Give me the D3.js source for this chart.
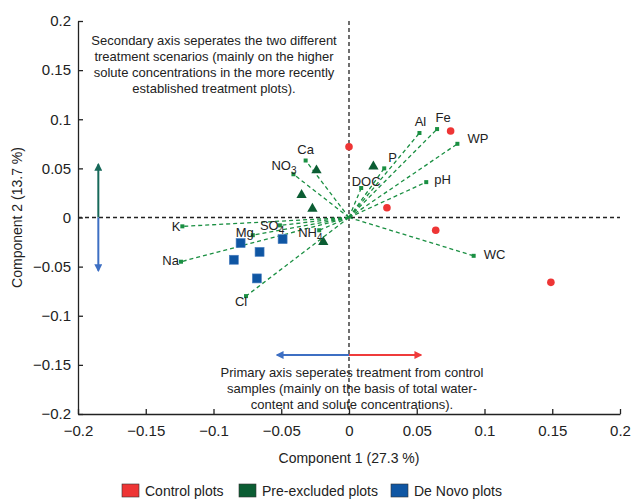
<!DOCTYPE html>
<html>
<head>
<meta charset="utf-8">
<script src="https://d3js.org/d3.v7.min.js"></script>
<style>
	body { margin: 0; background: #fff; }
	svg { font-family: "Liberation Sans", Arial, sans-serif; }
</style>
</head>
<body>
<script>

// loading vectors (variable name, component 1, component 2)
const vectorNames = ["Al", "Fe", "WP", "P", "pH", "DOC", "Ca", "NO3", "WC", "K", "Na", "Mg", "SO4", "NH4", "Cl"];
const vectorC1 = [0.052, 0.065, 0.080, 0.026, 0.057, 0.009, -0.032, -0.041, 0.092, -0.123, -0.124, -0.071, -0.051, -0.022, -0.076];
const vectorC2 = [0.086, 0.090, 0.075, 0.050, 0.036, 0.030, 0.058, 0.044, -0.039, -0.009, -0.045, -0.018, -0.008, -0.013, -0.080];

// sample scores
const controlC1 = [0.000, 0.075, 0.028, 0.064, 0.149];
const controlC2 = [0.072, 0.088, 0.010, -0.013, -0.066];
const preExcludedC1 = [-0.024, -0.035, -0.027, 0.018, -0.019];
const preExcludedC2 = [0.048, 0.023, 0.009, 0.052, -0.025];
const deNovoC1 = [-0.080, -0.066, -0.085, -0.049, -0.068];
const deNovoC2 = [-0.026, -0.035, -0.043, -0.022, -0.062];

const tickValues = [-0.2, -0.15, -0.1, -0.05, 0, 0.05, 0.1, 0.15, 0.2];
const legendNames = ["Control plots", "Pre-excluded plots", "De Novo plots"];

const width = 633, height = 499;
const red = "#ee3535", darkGreen = "#0b5d33", blue = "#0f56a3", vecGreen = "#1a8f42";

// label placement relative to the vector tip (pixels)
const labelPos = {
	Al: [1, -12, "middle"], Fe: [6, -12, "middle"], WP: [10, -5, "start"],
	P: [4, -11, "start"], pH: [8, -3, "start"], DOC: [5, -7, "middle"],
	Ca: [0, -11, "middle"], NO3: [3, -9, "end"], WC: [10, -1, "start"],
	K: [-2, 0, "end"], Na: [-2, -1, "end"], Mg: [-8, -3, "middle"],
	SO4: [-20, 0, "start"], NH4: [-21, 2, "start"], Cl: [-5, 5, "middle"]
};

const svg = d3.select("body").append("svg")
	.attr("width", width)
	.attr("height", height);

svg.append("defs").selectAll("marker")
	.data([["green", "#17695a"], ["blue", "#3d6fc3"], ["red", "#ef3b3b"]])
	.enter().append("marker")
	.attr("id", d => "arrow-" + d[0])
	.attr("viewBox", "0 0 10 10")
	.attr("refX", 8).attr("refY", 5)
	.attr("markerWidth", 4).attr("markerHeight", 4)
	.attr("orient", "auto")
	.append("path")
		.attr("d", "M0,0 L10,5 L0,10 Z")
		.attr("fill", d => d[1]);

const xScale = d3.scaleLinear().domain([-0.2, 0.2]).range([78, 620]);
const yScale = d3.scaleLinear().domain([-0.2, 0.2]).range([414, 21]);
const fmt = d3.format("~g");

// axes
const xAxis = d3.axisBottom(xScale).tickValues(tickValues).tickFormat(fmt)
	.tickSizeInner(-5).tickSizeOuter(0).tickPadding(11);
const yAxis = d3.axisLeft(yScale).tickValues(tickValues).tickFormat(fmt)
	.tickSizeInner(-5).tickSizeOuter(0).tickPadding(7);

svg.append("g")
	.attr("transform", "translate(0," + yScale(-0.2) + ")")
	.call(xAxis)
	.call(g => g.selectAll("text").style("font-size", "15px").attr("fill", "#222"));
svg.append("g")
	.attr("transform", "translate(" + xScale(-0.2) + ",0)")
	.call(yAxis)
	.call(g => g.selectAll("text").style("font-size", "15px").attr("fill", "#222"));
svg.selectAll(".domain, .tick line").attr("stroke", "#222").attr("stroke-width", 1.3);

svg.append("text")
	.attr("x", xScale(0)).attr("y", 463)
	.attr("text-anchor", "middle")
	.style("font-size", "14px").attr("fill", "#222")
	.text("Component 1 (27.3 %)");
svg.append("text")
	.attr("transform", "translate(22," + yScale(0) + ") rotate(-90)")
	.attr("text-anchor", "middle")
	.style("font-size", "14px").attr("fill", "#222")
	.text("Component 2 (13.7 %)");

// zero lines
svg.append("line")
	.attr("x1", xScale(-0.2)).attr("x2", xScale(0.2))
	.attr("y1", yScale(0)).attr("y2", yScale(0))
	.attr("stroke", "#222").attr("stroke-width", 1.3).attr("stroke-dasharray", "4 3");
svg.append("line")
	.attr("x1", xScale(0)).attr("x2", xScale(0))
	.attr("y1", yScale(0.2)).attr("y2", yScale(-0.2))
	.attr("stroke", "#222").attr("stroke-width", 1.3).attr("stroke-dasharray", "4 3");

// loading vectors
const vec = svg.append("g").selectAll("g")
	.data(vectorNames)
	.enter().append("g");

vec.append("line")
	.attr("x1", xScale(0)).attr("y1", yScale(0))
	.attr("x2", (d, i) => xScale(vectorC1[i]))
	.attr("y2", (d, i) => yScale(vectorC2[i]))
	.attr("stroke", vecGreen).attr("stroke-width", 1.3)
	.attr("stroke-dasharray", "4 3");
vec.append("rect")
	.attr("x", (d, i) => xScale(vectorC1[i]) - 2)
	.attr("y", (d, i) => yScale(vectorC2[i]) - 2)
	.attr("width", 4).attr("height", 4)
	.attr("fill", vecGreen);

vec.append("text")
	.attr("x", (d, i) => xScale(vectorC1[i]) + labelPos[d][0])
	.attr("y", (d, i) => yScale(vectorC2[i]) + labelPos[d][1] + 4.5)
	.attr("text-anchor", d => labelPos[d][2])
	.style("font-size", "13px").attr("fill", "#222")
	.each(function(d) {
		const m = d.match(/^([A-Za-z]+?)(\d)$/);
		const t = d3.select(this);
		if (m) {
			t.append("tspan").text(m[1]);
			t.append("tspan").attr("dy", 4).style("font-size", "10px").text(m[2]);
		} else {
			t.text(d);
		}
	});

// samples
svg.append("g").selectAll("circle")
	.data(controlC1)
	.enter().append("circle")
	.attr("cx", d => xScale(d))
	.attr("cy", (d, i) => yScale(controlC2[i]))
	.attr("r", 3.8)
	.attr("fill", red);

const tri = d3.symbol().type(d3.symbolTriangle).size(46);
svg.append("g").selectAll("path")
	.data(preExcludedC1)
	.enter().append("path")
	.attr("d", tri)
	.attr("transform", (d, i) => "translate(" + xScale(d) + "," + yScale(preExcludedC2[i]) + ")")
	.attr("fill", darkGreen);

svg.append("g").selectAll("rect")
	.data(deNovoC1)
	.enter().append("rect")
	.attr("x", d => xScale(d) - 4.5)
	.attr("y", (d, i) => yScale(deNovoC2[i]) - 4.5)
	.attr("width", 9).attr("height", 9)
	.attr("fill", blue)
	.attr("stroke", "#4a7fc0").attr("stroke-width", 0.6);

// direction arrows
const ax = -0.185, ay = -0.14, half = 0.054;
svg.append("line")
	.attr("x1", xScale(ax)).attr("x2", xScale(ax))
	.attr("y1", yScale(0)).attr("y2", yScale(half))
	.attr("stroke", "#17695a").attr("stroke-width", 2)
	.attr("marker-end", "url(#arrow-green)");
svg.append("line")
	.attr("x1", xScale(ax)).attr("x2", xScale(ax))
	.attr("y1", yScale(0)).attr("y2", yScale(-half))
	.attr("stroke", "#3d6fc3").attr("stroke-width", 2)
	.attr("marker-end", "url(#arrow-blue)");
svg.append("line")
	.attr("x1", xScale(0)).attr("x2", xScale(-0.053))
	.attr("y1", yScale(ay)).attr("y2", yScale(ay))
	.attr("stroke", "#3d6fc3").attr("stroke-width", 2)
	.attr("marker-end", "url(#arrow-blue)");
svg.append("line")
	.attr("x1", xScale(0)).attr("x2", xScale(0.053))
	.attr("y1", yScale(ay)).attr("y2", yScale(ay))
	.attr("stroke", "#ef3b3b").attr("stroke-width", 2)
	.attr("marker-end", "url(#arrow-red)");

// annotations
const note1 = ["Secondary axis seperates the two different",
	"treatment scenarios (mainly on the higher",
	"solute concentrations in the more recently",
	"established treatment plots)."];
const note2 = ["Primary axis seperates treatment from control",
	"samples (mainly on the basis of total water-",
	"content and solute concentrations)."];

svg.append("text")
	.attr("text-anchor", "middle")
	.style("font-size", "13px").attr("fill", "#222")
	.selectAll("tspan").data(note1).enter().append("tspan")
	.attr("x", 214).attr("y", (d, i) => 45 + i * 16)
	.text(d => d);
svg.append("text")
	.attr("text-anchor", "middle")
	.style("font-size", "13px").attr("fill", "#222")
	.selectAll("tspan").data(note2).enter().append("tspan")
	.attr("x", 352).attr("y", (d, i) => 377 + i * 16)
	.text(d => d);

// legend
const legendX = [122, 239, 391];
const legendColors = [red, darkGreen, blue];
const legend = svg.append("g").selectAll("g")
	.data(legendNames)
	.enter().append("g")
	.attr("transform", (d, i) => "translate(" + legendX[i] + ",484)");
legend.append("rect")
	.attr("width", 17).attr("height", 13)
	.attr("fill", (d, i) => legendColors[i])
	.attr("stroke", "#333").attr("stroke-width", 0.6);
legend.append("text")
	.attr("x", 23).attr("y", 11.5)
	.style("font-size", "14px").attr("fill", "#222")
	.text(d => d);

</script>
</body>
</html>
